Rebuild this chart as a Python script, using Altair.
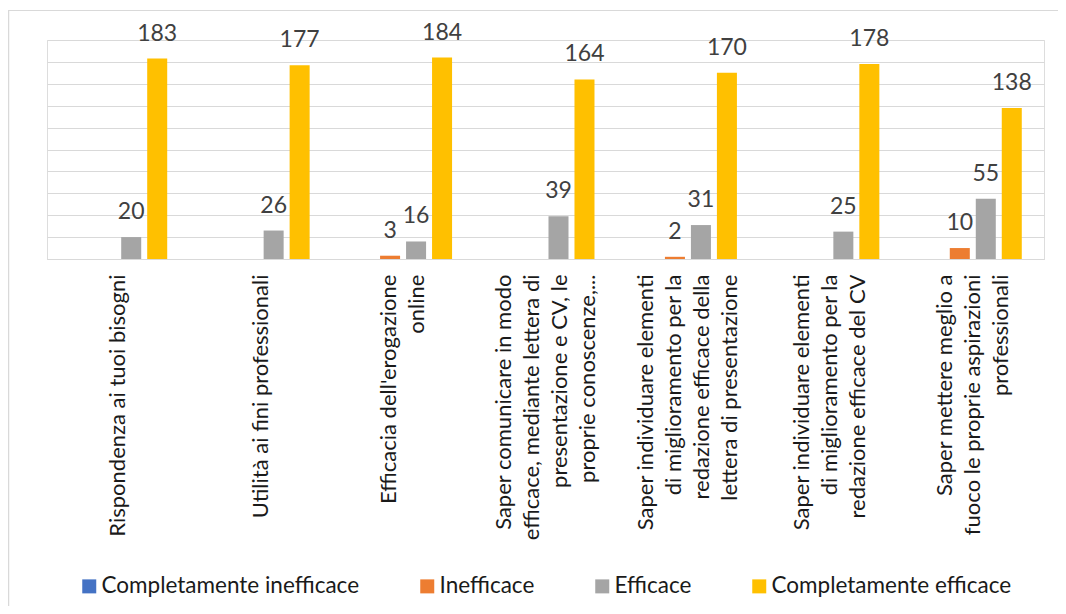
import altair as alt
import pandas as pd

categories = [
    "Rispondenza ai tuoi bisogni",
    "Utilità ai fini professionali",
    "Efficacia dell'erogazione|online",
    "Saper comunicare in modo|efficace, mediante lettera di|presentazione e CV, le|proprie conoscenze,...",
    "Saper individuare elementi|di miglioramento per la|redazione efficace della|lettera di presentazione",
    "Saper individuare elementi|di miglioramento per la|redazione efficace del CV",
    "Saper mettere meglio a|fuoco le proprie aspirazioni|professionali",
]
series = ["Completamente inefficace", "Inefficace", "Efficace", "Completamente efficace"]
colors = ["#4472C4", "#ED7D31", "#A5A5A5", "#FFC000"]

completamente_inefficace = [0, 0, 0, 0, 0, 0, 0]
inefficace = [0, 0, 3, 0, 2, 0, 10]
efficace = [20, 26, 16, 39, 31, 25, 55]
completamente_efficace = [183, 177, 184, 164, 170, 178, 138]

values = [completamente_inefficace, inefficace, efficace, completamente_efficace]
rows = []
for s, vals in zip(series, values):
    for c, v in zip(categories, vals):
        rows.append({"cat": c, "series": s, "value": v})
df = pd.DataFrame(rows)

FONT = "Lato"
LINE_H = 28

nlines = "length(split(datum.value, '|'))"
label_offset = {
    "condition": [
        {"test": f"{nlines} == 2", "value": -LINE_H / 2},
        {"test": f"{nlines} == 3", "value": -LINE_H},
        {"test": f"{nlines} == 4", "value": -LINE_H * 1.5},
    ],
    "value": 0,
}

x_enc = alt.X(
    "cat:N",
    sort=categories,
    scale=alt.Scale(paddingInner=0.312, paddingOuter=0.156),
    axis=alt.Axis(
        title=None,
        labelAngle=-90,
        labelExpr="split(datum.label, '|')",
        ticks=False,
        domainColor="#d9d9d9",
        domainWidth=1,
        labelFont=FONT,
        labelFontSize=22,
        labelColor="#1a1a1a",
        labelLineHeight=LINE_H,
        labelPadding=15,
        labelLimit=0,
        labelOffset=label_offset,
    ),
)
xo_enc = alt.XOffset(
    "series:N", sort=series, scale=alt.Scale(paddingInner=0.23, paddingOuter=0)
)
y_enc = alt.Y(
    "value:Q",
    scale=alt.Scale(domain=[0, 200]),
    axis=alt.Axis(
        title=None,
        labels=False,
        ticks=False,
        domain=False,
        values=list(range(0, 201, 20)),
        gridColor="#d9d9d9",
        gridWidth=1,
    ),
)

base = alt.Chart(df)

bars = base.mark_bar().encode(
    x=x_enc,
    xOffset=xo_enc,
    y=y_enc,
    color=alt.Color(
        "series:N",
        sort=series,
        scale=alt.Scale(domain=series, range=colors),
        legend=alt.Legend(
            title=None,
            orient="none",
            direction="horizontal",
            legendX=31,
            legendY=535,
            padding=0,
            symbolType="square",
            symbolSize=196,
            symbolStrokeWidth=0,
            labelFont=FONT,
            labelFontSize=22.5,
            labelColor="#1a1a1a",
            labelOffset=1,
            columnPadding=56,
            labelLimit=0,
        ),
    ),
)

labels = base.transform_filter("datum.value > 0").mark_text(
    baseline="alphabetic", dy=-18, font=FONT, fontSize=23, color="#404040"
).encode(x=x_enc, xOffset=xo_enc, y=y_enc, text="value:Q")

frame_df = pd.DataFrame({"k": [0]})
top_rule = alt.Chart(frame_df).mark_rule(color="#d9d9d9", strokeWidth=1).encode(
    x=alt.value(-39), x2=alt.value(1030), y=alt.value(-29.5)
)
left_rule = alt.Chart(frame_df).mark_rule(color="#d9d9d9", strokeWidth=1.5).encode(
    x=alt.value(-38.5), y=alt.value(-29.5), y2=alt.value(580)
)

chart = alt.layer(bars, labels, top_rule, left_rule).properties(
    width=997,
    height=219,
    autosize=alt.AutoSizeParams(type="none"),
    padding={"left": 39, "top": 32, "right": 14, "bottom": 347},
).configure_view(stroke=None).configure(font=FONT)

chart.save("out.html", embed_options={"renderer": "svg", "actions": False})
